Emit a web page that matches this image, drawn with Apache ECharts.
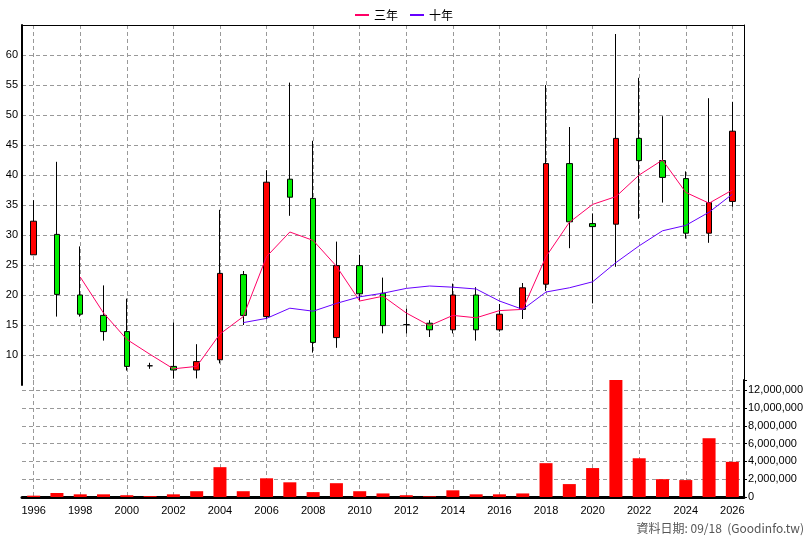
<!DOCTYPE html>
<html><head><meta charset="utf-8">
<script src="https://cdn.jsdelivr.net/npm/echarts@6/dist/echarts.min.js"></script>
<style>html,body{margin:0;padding:0;background:#fff}#c{width:808px;height:540px}</style>
</head><body><div id="c"></div>
<script>
var years = [];
for (var y = 1996; y <= 2026; y++) years.push(String(y));
// [open, close, low, high]
var ohlc = [
[26.7,32.3,26.7,35.8],[30.1,20.1,16.4,42.2],[20.0,16.8,16.4,28.1],[16.6,13.9,12.4,21.6],
[13.9,8.1,7.4,19.4],[8.2,8.2,7.7,8.7],[8.1,7.5,6.1,15.4],[7.5,8.9,6.1,11.8],
[9.2,23.6,8.6,34.2],[23.4,16.6,15.0,24.0],[16.4,38.8,16.0,40.8],[39.3,36.3,33.2,55.4],
[36.1,12.1,10.4,45.7],[12.9,24.9,11.2,28.9],[24.9,20.2,19.0,26.7],[20.3,14.9,13.6,22.9],
[15.06,15.06,13.6,17.7],[15.3,14.2,13.0,15.8],[14.2,20.0,13.6,21.9],[20.0,14.2,12.4,21.3],
[14.2,16.8,13.9,18.5],[17.6,21.2,16.0,22.0],[21.8,41.9,20.7,55.0],[41.9,32.2,27.8,48.0],
[31.9,31.4,18.6,33.6],[31.8,46.1,24.7,63.5],[46.1,42.4,32.7,56.2],[42.4,39.6,35.4,49.8],
[39.4,30.3,29.4,40.6],[30.3,35.4,28.7,52.8],[35.6,47.3,34.7,52.2]
];
var ma3 = ['-','-',23.0,17.0,12.6,10.1,7.7,8.1,13.5,16.4,26.4,30.5,29.1,24.8,19.0,19.8,17.0,14.9,16.6,16.2,17.4,17.6,26.4,32.1,35.1,36.4,40.0,42.5,37.1,35.3,37.5];
var ma10 = ['-','-','-','-','-','-','-','-','-',15.4,16.1,17.8,17.3,18.6,19.7,20.3,21.1,21.5,21.3,21.0,19.0,17.6,20.5,21.2,22.2,25.4,28.2,30.7,31.6,33.8,36.8];
var volume = [0.15,0.45,0.3,0.3,0.2,0.1,0.3,0.65,3.35,0.65,2.1,1.65,0.55,1.55,0.65,0.4,0.2,0.08,0.75,0.3,0.3,0.4,3.8,1.45,3.25,13.2,4.35,2.0,1.9,6.6,3.95].map(function(v){return Math.round(v*1e6);});

var candleData = ohlc.map(function(d){
  if (d[0]===d[1]) return {value:d, itemStyle:{color:'#000',color0:'#000',borderColor:'#000',borderColor0:'#000'}};
  return d;
});
var font = 'Liberation Sans';
var dash = {show:true, lineStyle:{color:'#999', type:[4,3], width:1}};
var chart = echarts.init(document.getElementById('c'));
chart.setOption({
  animation:false,
  textStyle:{fontFamily:font},
  legend:{top:4, left:'center', itemWidth:14, itemHeight:2, itemGap:12, icon:'rect',
    textStyle:{fontSize:12, color:'#000', fontFamily:'Noto Sans CJK TC'},
    data:['三年','十年']},
  grid:[
    {left:22, right:64, top:25, height:360, show:false},
    {left:22, right:64, top:380, height:117, show:false}
  ],
  xAxis:[
    {type:'category', gridIndex:0, data:years, boundaryGap:true, position:'top',
     axisLine:{show:true, lineStyle:{color:'#000', width:1}}, axisTick:{show:false}, axisLabel:{show:false},
     splitLine:Object.assign({interval:1, alignWithLabel:true}, dash)},
    {type:'category', gridIndex:1, data:years, boundaryGap:true,
     axisLine:{show:true, lineStyle:{color:'#000', width:3}}, axisTick:{show:false, alignWithLabel:true},
     axisLabel:{interval:1, color:'#000', fontSize:11, margin:8},
     splitLine:Object.assign({interval:1, alignWithLabel:true}, dash)}
  ],
  yAxis:[
    {type:'value', gridIndex:0, min:5, max:65, interval:5, position:'left',
     axisLine:{show:true, lineStyle:{color:'#000', width:2}}, axisTick:{show:false},
     axisLabel:{color:'#000', fontSize:11, margin:4, formatter:function(v){return (v>=10&&v<=60)?v:'';}},
     splitLine:Object.assign({showMinLine:false, showMaxLine:false}, dash)},
    {type:'value', gridIndex:1, min:0, max:13140000, interval:2000000, position:'right',
     axisLine:{show:true, lineStyle:{color:'#000', width:2}}, axisTick:{show:true, length:3, lineStyle:{color:'#000'}},
     axisLabel:{color:'#000', fontSize:11, margin:4, formatter:function(v){return v>13000000?'':v.toLocaleString('en-US');}},
     splitLine:Object.assign({showMaxLine:false}, dash)},
    {type:'value', gridIndex:0, min:5, max:65, interval:5, position:'right',
     axisLine:{show:true, lineStyle:{color:'#000', width:1}}, axisTick:{show:false}, axisLabel:{show:false}, splitLine:{show:false}}
  ],
  series:[
    {type:'candlestick', name:'K', xAxisIndex:0, yAxisIndex:0, data:candleData, barWidth:6,
     itemStyle:{color:'#ff0000', color0:'#00ee00', borderColor:'#000', borderColor0:'#000', borderWidth:1}},
    {type:'line', name:'三年', xAxisIndex:0, yAxisIndex:0, data:ma3, symbol:'none',
     lineStyle:{color:'#ff0066', width:1}, itemStyle:{color:'#ff0066'}},
    {type:'line', name:'十年', xAxisIndex:0, yAxisIndex:0, data:ma10, symbol:'none',
     lineStyle:{color:'#6600ff', width:1}, itemStyle:{color:'#6600ff'}},
    {type:'bar', name:'量', xAxisIndex:1, yAxisIndex:1, data:volume, barWidth:13,
     itemStyle:{color:'#ff0000'}}
  ],
  graphic:[{type:'text', right:4, bottom:6, style:{text:'資料日期: 09/18  (Goodinfo.tw)', fill:'#555', fontSize:12, fontFamily:'Noto Sans CJK TC'}}]
});
</script></body></html>
